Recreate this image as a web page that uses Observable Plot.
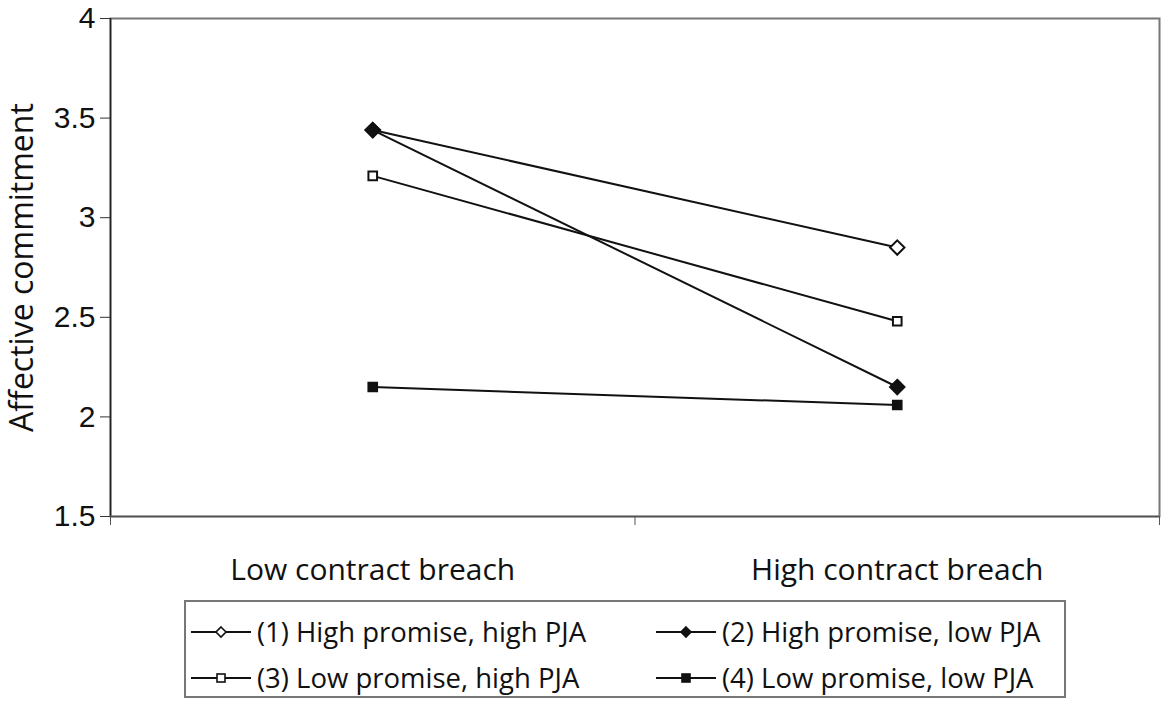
<!DOCTYPE html>
<html>
<head>
<meta charset="utf-8">
<script src="https://cdn.jsdelivr.net/npm/d3@7"></script>
<script src="https://cdn.jsdelivr.net/npm/@observablehq/plot@0.6"></script>
<style>
  html, body { margin: 0; padding: 0; background: #fff; }
  #chart { position: absolute; left: 0; top: 0; }
  #legend {
    position: absolute; left: 184px; top: 600px; width: 882px; height: 98px;
    border: 2px solid #777; box-sizing: border-box;
    font-family: "Open Sans", sans-serif; font-size: 27.5px; color: #111;
  }
  .item { position: absolute; display: flex; align-items: center; white-space: nowrap; }
  .item svg { margin-right: 4px; }
</style>
</head>
<body>
<div id="chart"></div>
<div id="legend"></div>
<script>
const conditions = ["Low contract breach", "High contract breach"];
const seriesNames = [
  "(1) High promise, high PJA",
  "(2) High promise, low PJA",
  "(3) Low promise, high PJA",
  "(4) Low promise, low PJA"
];
const s1 = [3.44, 2.85];
const s2 = [3.44, 2.15];
const s3 = [3.21, 2.48];
const s4 = [2.15, 2.06];
const yTicks = [1.5, 2, 2.5, 3, 3.5, 4];
const markers = [
  {symbol: "diamond2", fill: "white"},
  {symbol: "diamond2", fill: "#111"},
  {symbol: "square2", fill: "white"},
  {symbol: "square2", fill: "#111"}
];

const allSeries = [s1, s2, s3, s4];
const data = [];
allSeries.forEach((vals, si) => {
  vals.forEach((v, ci) => data.push({series: seriesNames[si], si, cond: conditions[ci], xi: ci + 0.5, value: v}));
});

const font = '"Open Sans", sans-serif';
const chart = Plot.plot({
  width: 1161,
  height: 590,
  marginLeft: 110,
  marginRight: 2,
  marginTop: 18,
  marginBottom: 74,
  style: {fontFamily: font, fontSize: "30px", color: "#111", background: "white"},
  x: {domain: [0, 2]},
  y: {domain: [1.5, 4]},
  marks: [
    Plot.frame({stroke: "#777", strokeWidth: 2}),
    Plot.axisY({ticks: yTicks, tickSize: 10, tickPadding: 5, tickFormat: d => String(d), label: null, stroke: "#333", fontSize: 30, fontFamily: '"Liberation Sans", Arial, sans-serif'}),
    Plot.axisX({ticks: [0, 1, 2], tickSize: 9, tickFormat: () => "", label: null, stroke: "#555"}),
    Plot.axisX({ticks: [0.5, 1.5], tickSize: 0, tickPadding: 42, tickFormat: d => conditions[Math.floor(d)], label: null, fontSize: 30}),
    Plot.ruleX([0], {stroke: "#222", strokeWidth: 1.5}),
    Plot.ruleY([1.5], {stroke: "#555", strokeWidth: 1.5}),
    Plot.text(["Affective commitment"], {frameAnchor: "left", textAnchor: "middle", dx: -88, rotate: -90, fontSize: 32, fill: "#111"}),
    Plot.line(data, {x: "xi", y: "value", z: "series", stroke: "#111", strokeWidth: 2}),
    ...markers.map((m, i) => Plot.dot(data.filter(d => d.si === i), {
      x: "xi", y: "value", symbol: m.symbol, fill: m.fill, stroke: "#111", strokeWidth: 2, r: i < 2 ? 6.5 : 5.5
    }))
  ]
});
document.getElementById("chart").appendChild(chart);

const legend = document.getElementById("legend");
const pos = [[3, 11], [468, 11], [3, 57], [468, 57]];
seriesNames.forEach((name, i) => {
  const m = markers[i];
  const div = document.createElement("div");
  div.className = "item";
  div.style.left = pos[i][0] + "px";
  div.style.top = pos[i][1] + "px";
  const ns = "http://www.w3.org/2000/svg";
  const svg = document.createElementNS(ns, "svg");
  svg.setAttribute("width", 64); svg.setAttribute("height", 30);
  const line = document.createElementNS(ns, "line");
  line.setAttribute("x1", 2); line.setAttribute("x2", 62); line.setAttribute("y1", 15); line.setAttribute("y2", 15);
  line.setAttribute("stroke", "#111"); line.setAttribute("stroke-width", 2);
  svg.appendChild(line);
  let shape;
  if (m.symbol === "diamond2") {
    shape = document.createElementNS(ns, "path");
    shape.setAttribute("d", "M32,10 L37,15 L32,20 L27,15 Z");
  } else {
    shape = document.createElementNS(ns, "rect");
    shape.setAttribute("x", 28); shape.setAttribute("y", 11); shape.setAttribute("width", 8); shape.setAttribute("height", 8);
  }
  shape.setAttribute("fill", m.fill); shape.setAttribute("stroke", "#111"); shape.setAttribute("stroke-width", 1.6);
  svg.appendChild(shape);
  div.appendChild(svg);
  const span = document.createElement("span");
  span.textContent = name;
  div.appendChild(span);
  legend.appendChild(div);
});
</script>
</body>
</html>
